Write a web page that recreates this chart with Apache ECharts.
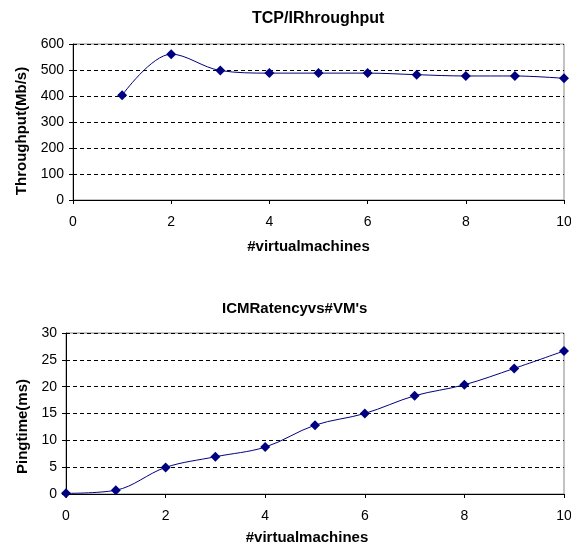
<!DOCTYPE html>
<html><head><meta charset="utf-8">
<script src="https://cdn.jsdelivr.net/npm/echarts@6/dist/echarts.min.js"></script>
<style>html,body{margin:0;padding:0;background:#fff}#c{width:571px;height:546px}</style>
</head><body><div id="c"></div>
<script>
const vmCounts1 = [1,2,3,4,5,6,7,8,9,10];
const throughput = [403,561,498,488,488,488,482,477,477,468];
const vmCounts2 = [0,1,2,3,4,5,6,7,8,9,10];
const pingTime = [0.12,0.7,4.96,6.94,8.74,12.83,15.0,18.3,20.35,23.4,26.65];
const xTicks = [0,2,4,6,8,10];
const titles = ["TCP/IRhroughput","ICMRatencyvs#VM's"];
const yNames = ["Throughput(Mb/s)","Pingtime(ms)"];
const xName = "#virtualmachines";

const font = "Liberation Sans, Arial, sans-serif";
const chart = echarts.init(document.getElementById('c'));
function xAxis(gi){
  return {type:'value', gridIndex:gi, min:0, max:10, interval:2,
    name:xName, nameLocation:'middle', nameGap: gi===0?39:36,
    nameTextStyle:{fontFamily:font,fontWeight:'bold',fontSize:15,color:'#000',padding:[0,gi===0?20:16,0,0]},
    axisLine:{lineStyle:{color:'#000',width:1}},
    axisTick:{show:true,inside:false,length:4,lineStyle:{color:'#000'}},
    axisLabel:{fontFamily:font,fontSize:14,color:'#000',margin:15},
    splitLine:{show:false}};
}
function yAxis(gi,max,interval){
  return {type:'value', gridIndex:gi, min:0, max:max, interval:interval,
    name:yNames[gi], nameLocation:'middle', nameGap: gi===0?42:35, nameRotate:90,
    nameTextStyle:{fontFamily:font,fontWeight:'bold',fontSize:15,color:'#000',padding:[0,gi===0?18:26,0,0]},
    axisLine:{show:true,lineStyle:{color:'#000',width:1}},
    axisTick:{show:true,length:4,lineStyle:{color:'#000'}},
    axisLabel:{fontFamily:font,fontSize:14,color:'#000',margin:9},
    splitLine:{show:true,lineStyle:{color:'#000',type:[4,3],width:1}}};
}
chart.setOption({
  animation:false,
  backgroundColor:'#fff',
  title:[
    {text:titles[0],left:247,top:6,textStyle:{fontFamily:font,fontWeight:'bold',fontSize:16,color:'#000'}},
    {text:titles[1],left:217,top:296,textStyle:{fontFamily:font,fontWeight:'bold',fontSize:15,color:'#000'}}
  ],
  grid:[
    {left:73,top:44,width:491,height:156,show:true,borderColor:'#888',borderWidth:1,outerBoundsMode:'none',containLabel:false},
    {left:66,top:333,width:498,height:161,show:true,borderColor:'#888',borderWidth:1,outerBoundsMode:'none',containLabel:false}
  ],
  xAxis:[xAxis(0),xAxis(1)],
  yAxis:[yAxis(0,600,100),yAxis(1,30,5)],
  series:[
    {type:'line',xAxisIndex:0,yAxisIndex:0,data:vmCounts1.map((x,i)=>[x,throughput[i]]),
     smooth:0.35,symbol:'diamond',symbolSize:10,lineStyle:{color:'#000080',width:1},itemStyle:{color:'#000080'}},
    {type:'line',xAxisIndex:1,yAxisIndex:1,data:vmCounts2.map((x,i)=>[x,pingTime[i]]),
     smooth:0.35,symbol:'diamond',symbolSize:10,lineStyle:{color:'#000080',width:1},itemStyle:{color:'#000080'}}
  ]
});
</script></body></html>
